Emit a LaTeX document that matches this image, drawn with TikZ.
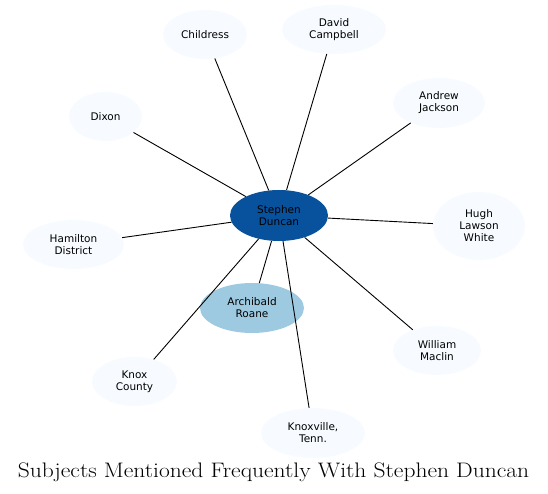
\documentclass[tikz,border=0pt]{standalone}
\usepackage{fontspec}
\usetikzlibrary{shapes.geometric}
\newfontfamily\nodefont{DejaVu Sans}
\definecolor{darkblue}{HTML}{08519C}
\definecolor{lightblue}{HTML}{9ECAE1}
\definecolor{paleblue}{HTML}{F7FBFF}
\begin{document}
\begin{tikzpicture}[x=1pt,y=-1pt,
  ent/.style={ellipse, fill=paleblue, draw=none, inner sep=0pt, align=center,
    font=\nodefont\fontsize{10.5}{12}\selectfont},
  link/.style={draw=black, line width=0.9pt}]
\useasboundingbox (0,0) rectangle (548,494);
\node[ent, fill=darkblue, minimum width=98pt, minimum height=51pt] (sd) at (279,215.5) {Stephen\\Duncan};
\node[ent, fill=lightblue, minimum width=104pt, minimum height=50pt] (ar) at (252,308) {Archibald\\Roane};
\node[ent, minimum width=84pt, minimum height=49pt] (ch) at (205,34.5) {Childress};
\node[ent, minimum width=104pt, minimum height=49pt] (dc) at (334,29.5) {David\\Campbell};
\node[ent, minimum width=92pt, minimum height=50pt] (aj) at (439,103) {Andrew\\Jackson};
\node[ent, minimum width=73pt, minimum height=49pt] (di) at (105.5,116.5) {Dixon};
\node[ent, minimum width=92pt, minimum height=68pt] (hw) at (479,226) {Hugh\\Lawson\\White};
\node[ent, minimum width=101pt, minimum height=49pt] (hd) at (73.5,244.5) {Hamilton\\District};
\node[ent, minimum width=88pt, minimum height=49pt] (wm) at (437,350.5) {William\\Maclin};
\node[ent, minimum width=85pt, minimum height=49pt] (kc) at (134.5,381.5) {Knox\\County};
\node[ent, minimum width=104pt, minimum height=50pt] (kt) at (313,433) {Knoxville,\\Tenn.};
\foreach \n in {ar,ch,dc,aj,di,hw,hd,wm,kc,kt} \draw[link] (sd) -- (\n);
\node[inner sep=0pt, xscale=1.12, font=\fontsize{21}{24}\selectfont] (title) at (273.5,472) {Subjects Mentioned Frequently With Stephen Duncan};
\end{tikzpicture}
\end{document}
